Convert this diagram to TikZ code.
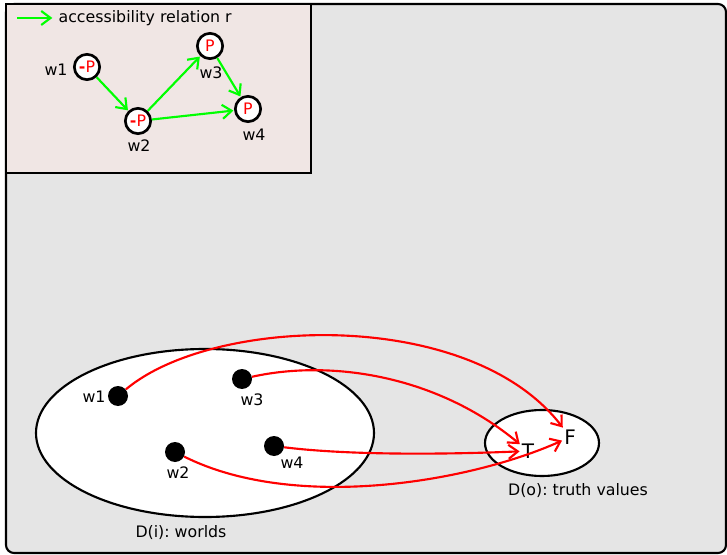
\documentclass[tikz,border=0pt]{standalone}
\usepackage{fontspec}
\setmainfont{DejaVu Sans}
\usetikzlibrary{arrows.meta,positioning,shapes.geometric}

\definecolor{panelgray}{RGB}{229,229,229}
\definecolor{insetpink}{RGB}{240,230,228}
\definecolor{accgreen}{RGB}{0,255,0}
\frenchspacing

\begin{document}
\begin{tikzpicture}[x=0.75pt,y=-0.75pt,>={Straight Barb[length=7pt,width=10.5pt]},
    font=\fontsize{11.85}{14}\selectfont,
    world/.style={circle,draw,fill=white,line width=2pt,minimum size=19pt,inner sep=0pt,text=red},
    dot/.style={circle,fill=black,minimum size=15pt,inner sep=0pt},
    setbox/.style={ellipse,draw,fill=white,line width=1.6pt,inner sep=0pt},
    access/.style={->,accgreen,line width=1.6pt,shorten >=0.5pt},
    interp/.style={->,red,line width=1.6pt,shorten >=0.5pt},
    tv/.style={font=\fontsize{15}{17}\selectfont,inner sep=1pt}]
    \useasboundingbox (0,0) rectangle (727,555);
    \draw[fill=panelgray,line width=1.6pt,rounded corners=6pt] (6,4) rectangle (726,553);
    \draw[fill=insetpink,line width=1.6pt] (6,4) rectangle (311,173);

    % legend
    \coordinate (lg0) at (17,18);
    \node[anchor=west,inner xsep=4pt] (lgtxt) at (53,18) {accessibility relation r};
    \draw[access] (lg0) -- (lgtxt);

    % kripke frame
    \node[world] (k1) at (87,67) {{\bfseries -}P};
    \node[world] (k2) at (138,121) {{\bfseries -}P};
    \node[world] (k3) at (210,46) {P};
    \node[world] (k4) at (248,109) {P};
    \node (k1l) at (56,70) {w1};
    \node (k2l) at (139,146) {w2};
    \node (k3l) at (211,73) {w3};
    \node (k4l) at (254,135) {w4};

    \path (k1) edge [access] (k2);
    \path (k2) edge [access] (k3);
    \path (k3) edge [access] (k4);
    \path (k2) edge [access] (k4);

    % domains
    \node[setbox,minimum width=253.5pt,minimum height=126pt] (Di) at (205,433) {};
    \node (Dil) at (181,533) {D(i): worlds};
    \node[dot] (d1) at (118,396) {};
    \node[dot] (d3) at (242,379) {};
    \node[dot] (d2) at (175,452) {};
    \node[dot] (d4) at (274,446) {};
    \node (d1l) at (94,397) {w1};
    \node (d3l) at (252,400) {w3};
    \node (d2l) at (178,473) {w2};
    \node (d4l) at (292,463) {w4};

    \node[setbox,minimum width=85.5pt,minimum height=49.5pt] (Do) at (542,443) {};
    \node (Dol) at (578,491) {D(o): truth values};
    \node[tv] (T) at (528,451) {T};
    \node[tv] (F) at (570,437) {F};

    \draw[interp] (d1) .. controls +(95,-80) and +(-100,-130) .. (F);
    \draw[interp] (d3) .. controls +(90,-20) and +(-90,-75) .. (T);
    \draw[interp] (d4) .. controls +(80,10) and +(-70,3) .. (T);
    \draw[interp] (d2) .. controls +(120,60) and +(-100,45) .. (F);

\end{tikzpicture}
\end{document}
